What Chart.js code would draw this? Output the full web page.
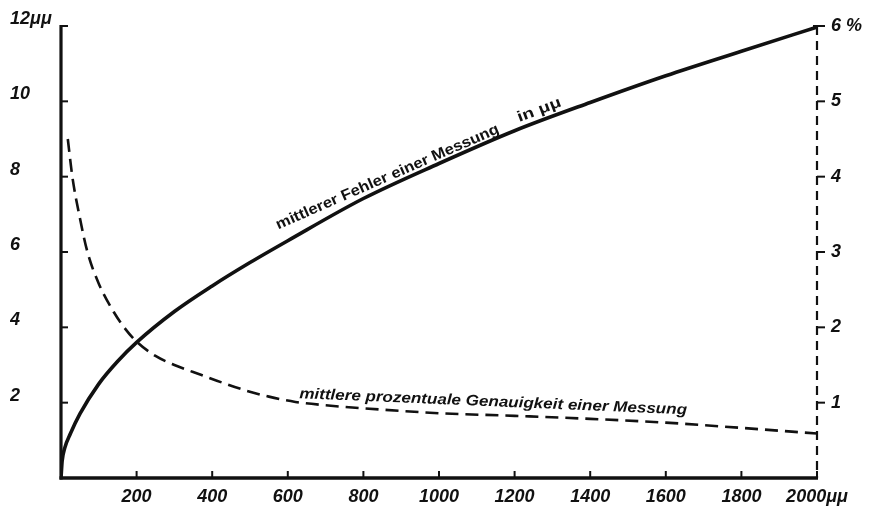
<!DOCTYPE html>
<html lang="de">
<head>
  <meta charset="UTF-8" />
  <title>Mittlerer Fehler einer Messung</title>
  <script src="https://cdn.jsdelivr.net/npm/chart.js"></script>
  <style>
    html, body { margin: 0; padding: 0; background: #fff; }
  </style>
</head>
<body>
  <canvas id="chart" width="869" height="517"></canvas>
  <script>
    // mittlerer Fehler einer Messung (left axis, in μμ)
    const errX = [0, 3, 10, 25, 50, 100, 150, 200, 300, 400, 500, 600, 800, 1000, 1200, 1400, 1600, 1800, 2000];
    const errY = [0, 0.45, 0.8, 1.18, 1.7, 2.5, 3.1, 3.6, 4.42, 5.1, 5.72, 6.3, 7.42, 8.35, 9.22, 9.97, 10.68, 11.33, 11.97];

    // mittlere prozentuale Genauigkeit (right axis, in %)
    const accX = [18, 30, 50, 70, 100, 140, 170, 200, 250, 300, 370, 430, 490, 550, 620, 700, 800, 1000, 1200, 1400, 1600, 1800, 2000];
    const accPct = [4.5, 4.0, 3.45, 3.0, 2.58, 2.2, 1.98, 1.81, 1.62, 1.5, 1.37, 1.26, 1.16, 1.08, 1.01, 0.965, 0.925, 0.86, 0.825, 0.785, 0.735, 0.665, 0.59];

    const xTicks = [200, 400, 600, 800, 1000, 1200, 1400, 1600, 1800, 2000];
    const leftTicks = [2, 4, 6, 8, 10, 12];
    const rightTicks = [1, 2, 3, 4, 5, 6];

    const ink = '#111';
    const labelFont = { family: 'Liberation Sans', size: 18, weight: 'bold', style: 'italic' };

    // axes drawn by hand: solid left + bottom, dashed right, ticks pointing inward / outward
    const axesPlugin = {
      id: 'axes',
      beforeDatasetsDraw(chart) {
        const { ctx, chartArea: a, scales } = chart;
        ctx.save();
        ctx.strokeStyle = ink;
        ctx.lineCap = 'butt';

        ctx.lineWidth = 3.2;
        ctx.beginPath();
        ctx.moveTo(a.left, a.top - 1);
        ctx.lineTo(a.left, a.bottom + 1.5);
        ctx.stroke();

        ctx.lineWidth = 3.5;
        ctx.beginPath();
        ctx.moveTo(a.left - 1.5, a.bottom);
        ctx.lineTo(a.right + 1, a.bottom);
        ctx.stroke();

        ctx.lineWidth = 2;
        leftTicks.forEach(v => {
          const y = scales.y.getPixelForValue(v);
          ctx.beginPath();
          ctx.moveTo(a.left, y);
          ctx.lineTo(a.left + 7, y);
          ctx.stroke();
        });
        xTicks.forEach(v => {
          const x = scales.x.getPixelForValue(v);
          ctx.beginPath();
          ctx.moveTo(x, a.bottom);
          ctx.lineTo(x, a.bottom - 7);
          ctx.stroke();
        });

        ctx.lineWidth = 2.2;
        ctx.setLineDash([9, 6]);
        ctx.beginPath();
        ctx.moveTo(a.right, a.top);
        ctx.lineTo(a.right, a.bottom);
        ctx.stroke();
        ctx.setLineDash([]);

        ctx.lineWidth = 2;
        rightTicks.forEach(v => {
          const y = scales.y2.getPixelForValue(v);
          ctx.beginPath();
          ctx.moveTo(a.right - (v === 6 ? 4 : 0), y);
          ctx.lineTo(a.right + 8, y);
          ctx.stroke();
        });
        ctx.restore();
      },
      afterDraw(chart) {
        const { ctx, scales } = chart;
        const drawAlong = (text, x, y, angle, width, font) => {
          ctx.save();
          ctx.font = font;
          ctx.fillStyle = ink;
          ctx.textBaseline = 'alphabetic';
          ctx.translate(x, y);
          ctx.rotate(angle);
          const w = ctx.measureText(text).width;
          ctx.scale(width / w, 1);
          ctx.fillText(text, 0, 0);
          ctx.restore();
        };
        // label on the solid curve
        const ang1 = -23.6 * Math.PI / 180;
        const x1 = scales.x.getPixelForValue(575);
        const y1 = scales.y.getPixelForValue(6.6);
        drawAlong('mittlerer Fehler einer Messung', x1, y1, ang1, 242, 'bold 15px "Liberation Sans"');
        drawAlong('in μμ', x1 + 263 * Math.cos(ang1), y1 + 263 * Math.sin(ang1) - 2, ang1 + 0.05, 46, 'bold 15px "Liberation Sans"');

        // label on the dashed curve
        const x2 = scales.x.getPixelForValue(630);
        const y2 = scales.y.getPixelForValue(2.12);
        drawAlong('mittlere prozentuale Genauigkeit einer Messung', x2, y2, 2.4 * Math.PI / 180, 388, 'italic bold 15px "Liberation Sans"');
      }
    };

    new Chart(document.getElementById('chart'), {
      type: 'line',
      data: {
        datasets: [
          {
            label: 'mittlerer Fehler',
            data: errX.map((x, i) => ({ x, y: errY[i] })),
            yAxisID: 'y',
            borderColor: ink,
            borderWidth: 3.6,
            pointRadius: 0,
            fill: false,
            cubicInterpolationMode: 'monotone'
          },
          {
            label: 'prozentuale Genauigkeit',
            data: accX.map((x, i) => ({ x, y: accPct[i] })),
            yAxisID: 'y2',
            borderColor: ink,
            borderWidth: 2.6,
            borderDash: [13, 7],
            pointRadius: 0,
            fill: false,
            cubicInterpolationMode: 'monotone'
          }
        ]
      },
      options: {
        responsive: false,
        animation: false,
        layout: { padding: { left: 10, top: 26, right: 0, bottom: 0 } },
        plugins: { legend: { display: false }, tooltip: { enabled: false } },
        scales: {
          x: {
            type: 'linear',
            min: 0,
            max: 2000,
            grid: { display: false, tickLength: 0 },
            border: { display: false },
            afterBuildTicks: s => { s.ticks = xTicks.map(v => ({ value: v })); },
            afterFit: s => { s.height = 39; },
            ticks: {
              autoSkip: false,
              maxRotation: 0,
              padding: 8,
              color: ink,
              font: labelFont,
              callback: v => v === 2000 ? '2000μμ' : String(v)
            }
          },
          y: {
            position: 'left',
            min: 0,
            max: 12,
            grid: { display: false, tickLength: 0 },
            border: { display: false },
            afterBuildTicks: s => { s.ticks = leftTicks.map(v => ({ value: v })); },
            afterFit: s => { s.width = 51; },
            ticks: {
              crossAlign: 'far',
              labelOffset: -7,
              color: ink,
              font: labelFont,
              callback: v => v === 12 ? '12μμ' : String(v)
            }
          },
          y2: {
            position: 'right',
            min: 0,
            max: 6,
            grid: { display: false, tickLength: 0 },
            border: { display: false },
            afterBuildTicks: s => { s.ticks = rightTicks.map(v => ({ value: v })); },
            afterFit: s => { s.width = 52; },
            ticks: {
              padding: 14,
              color: ink,
              font: labelFont,
              callback: v => v === 6 ? '6 %' : String(v)
            }
          }
        }
      },
      plugins: [axesPlugin]
    });
  </script>
</body>
</html>
